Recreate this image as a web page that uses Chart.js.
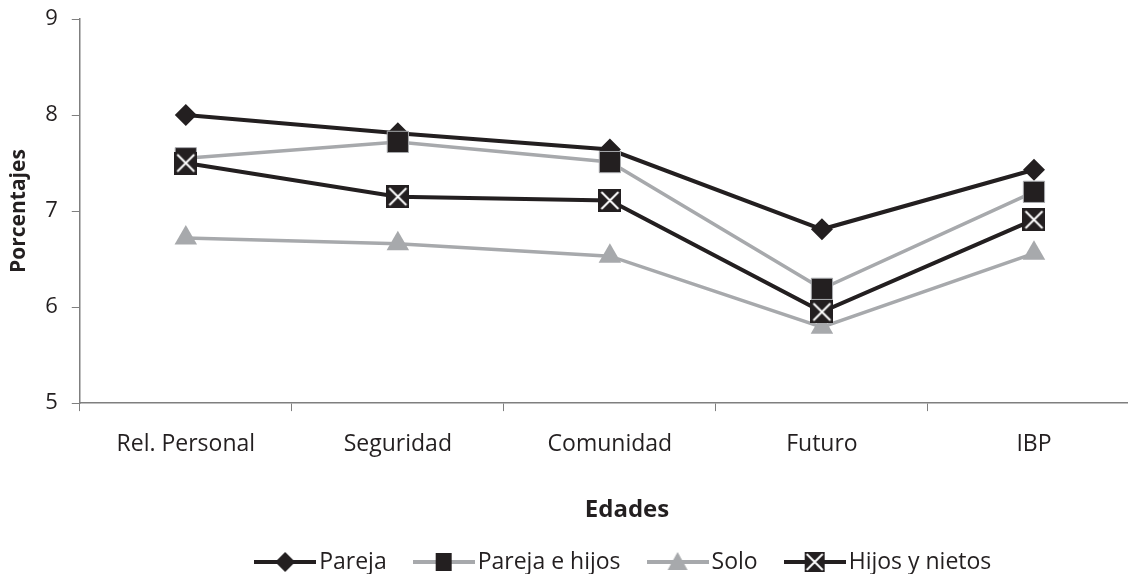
<!DOCTYPE html>
<html><head><meta charset="utf-8">
<script src="https://cdn.jsdelivr.net/npm/chart.js@4.4.1/dist/chart.umd.min.js"></script>
<style>html,body{margin:0;padding:0;overflow:hidden;background:#fff;width:1128px;height:574px}canvas{display:block}</style>
</head><body>
<canvas id="c" width="1254" height="574" style="width:1254px;height:574px"></canvas>
<script>
const categories = ['Rel. Personal', 'Seguridad', 'Comunidad', 'Futuro', 'IBP'];
const pareja = [8.0, 7.81, 7.64, 6.81, 7.43];
const parejaHijos = [7.55, 7.72, 7.51, 6.19, 7.20];
const solo = [6.72, 6.66, 6.53, 5.79, 6.56];
const hijosNietos = [7.50, 7.15, 7.11, 5.95, 6.91];
const seriesNames = ['Pareja', 'Pareja e hijos', 'Solo', 'Hijos y nietos'];
const yTicks = [5, 6, 7, 8, 9];

const BLACK = '#231f20', GRAY = '#a7a9ac', AXIS = '#7f7f7f';
const FONT = "'Open Sans', 'Noto Sans', sans-serif";

function xBox(size) {
  const c = document.createElement('canvas');
  c.width = size; c.height = size;
  const g = c.getContext('2d');
  g.fillStyle = BLACK; g.fillRect(0, 0, size, size);
  g.strokeStyle = '#fff'; g.lineWidth = 2;
  g.beginPath(); g.moveTo(3, 3); g.lineTo(size - 3, size - 3);
  g.moveTo(size - 3, 3); g.lineTo(3, size - 3); g.stroke();
  return c;
}
function legendIcon(lineColor, drawMarker) {
  const w = 62, h = 24;
  const c = document.createElement('canvas');
  c.width = w; c.height = h;
  const g = c.getContext('2d');
  g.strokeStyle = lineColor; g.lineWidth = 4;
  g.beginPath(); g.moveTo(0, h / 2); g.lineTo(w, h / 2); g.stroke();
  drawMarker(g, w / 2, h / 2);
  return c;
}
const legendIcons = [
  legendIcon(BLACK, (g, x, y) => { g.fillStyle = BLACK; g.beginPath(); g.moveTo(x - 10, y); g.lineTo(x, y - 10); g.lineTo(x + 10, y); g.lineTo(x, y + 10); g.closePath(); g.fill(); }),
  legendIcon(GRAY, (g, x, y) => { g.fillStyle = BLACK; g.fillRect(x - 8, y - 9, 16, 18); }),
  legendIcon(GRAY, (g, x, y) => { g.fillStyle = GRAY; g.beginPath(); g.moveTo(x, y - 10); g.lineTo(x + 10, y + 8); g.lineTo(x - 10, y + 8); g.closePath(); g.fill(); }),
  legendIcon(BLACK, (g, x, y) => { g.fillStyle = BLACK; g.fillRect(x - 10, y - 10, 20, 20); g.strokeStyle = '#fff'; g.lineWidth = 2; g.beginPath(); g.moveTo(x - 8, y - 8); g.lineTo(x + 8, y + 8); g.moveTo(x + 8, y - 8); g.lineTo(x - 8, y + 8); g.stroke(); })
];

const datasets = [
  { label: seriesNames[0], data: pareja, order: 4, borderColor: BLACK, backgroundColor: BLACK, borderWidth: 4, pointStyle: 'rectRot', pointRadius: 11, pointBorderWidth: 0 },
  { label: seriesNames[1], data: parejaHijos, order: 3, borderColor: GRAY, backgroundColor: BLACK, borderWidth: 3.5, pointStyle: 'rect', pointRadius: 15, pointBorderColor: GRAY, pointBorderWidth: 1 },
  { label: seriesNames[2], data: solo, order: 2, borderColor: GRAY, backgroundColor: GRAY, borderWidth: 3.5, pointStyle: 'triangle', pointRadius: 13, pointBorderWidth: 0 },
  { label: seriesNames[3], data: hijosNietos, order: 1, borderColor: BLACK, backgroundColor: BLACK, borderWidth: 4, pointStyle: xBox(23), pointRadius: 12, pointBorderWidth: 0 }
];

new Chart(document.getElementById('c'), {
  type: 'line',
  data: { labels: categories, datasets },
  options: {
    responsive: false,
    animation: false,
    layout: { autoPadding: false, padding: { top: 19, right: 0, left: 0, bottom: -9.5 } },
    plugins: {
      tooltip: { enabled: false },
      title: {
        display: true, position: 'bottom', weight: 500, text: 'Edades', color: BLACK,
        font: { family: FONT, size: 24, weight: 'bold' }, padding: { top: 17, bottom: -8.5 }
      },
      legend: {
        position: 'bottom',
        weight: 1000,
        labels: {
          usePointStyle: true,
          pointStyleWidth: 45,
          color: BLACK,
          font: { family: FONT, size: 23 },
          padding: 34.5,
          generateLabels: (chart) => chart.data.datasets.map((d, i) => ({
            text: d.label, pointStyle: legendIcons[i], fillStyle: 'transparent', strokeStyle: 'transparent', lineWidth: 0, datasetIndex: i, fontColor: BLACK
          }))
        }
      }
    },
    scales: {
      x: {
        offset: true,
        grid: { display: true, drawOnChartArea: false, drawTicks: true, tickLength: 8, color: AXIS, offset: true },
        border: { display: true, color: AXIS, width: 1.5 },
        ticks: { color: BLACK, font: { family: FONT, size: 23 }, padding: 20, maxRotation: 0 }
      },
      y: {
        min: 5, max: 9,
        afterBuildTicks: (s) => { s.ticks = yTicks.map(v => ({ value: v })); },
        afterFit: (s) => { s.paddingTop = 13; s.paddingBottom = 13; },
        grid: { display: true, drawOnChartArea: false, drawTicks: true, tickLength: 8, color: AXIS },
        border: { display: true, color: AXIS, width: 1.5 },
        ticks: { color: BLACK, font: { family: FONT, size: 22 }, padding: 14 },
        title: { display: true, text: 'Porcentajes', color: BLACK, font: { family: FONT, size: 21, weight: 'bold' }, padding: { top: 6, bottom: 0 } }
      },
      yRight: {
        type: 'linear', position: 'right', display: true, min: 5, max: 9,
        grid: { display: false, drawTicks: false }, border: { display: false },
        ticks: { display: false },
        afterFit: (s) => { s.width = 114; s.paddingTop = 0; s.paddingBottom = 0; }
      }
    }
  }
});
</script>
</body></html>
